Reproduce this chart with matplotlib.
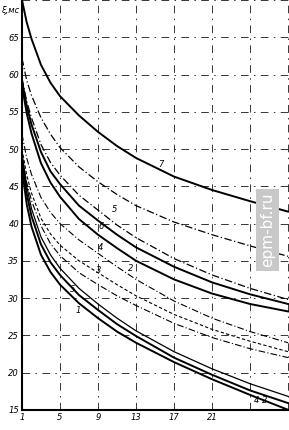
import matplotlib
matplotlib.use('Agg')
import matplotlib.pyplot as plt

# abscissa points where the curves were read
x = [1, 1.5, 2, 3, 4, 5, 7, 9, 11, 13, 17, 21, 25, 29]

# curve 7 (top, thick)
c7 = [70.0, 67.0, 64.8, 61.3, 58.9, 57.1, 54.5, 52.3, 50.4, 48.8, 46.3, 44.5, 43.0, 41.6]
# thin dash-dot from ~62
c6 = [62.2, 59.2, 57.2, 54.2, 52.0, 50.2, 47.6, 45.6, 43.9, 42.4, 40.2, 38.5, 37.0, 35.6]
# upper bunch, starting near 59
t1 = [59.5, 56.4, 54.2, 50.6, 48.2, 46.5, 43.8, 41.8, 39.8, 38.1, 35.3, 33.1, 31.3, 29.8]
t2 = [59.2, 55.8, 53.3, 49.6, 47.0, 45.3, 42.4, 40.4, 38.5, 36.8, 34.2, 32.1, 30.5, 29.2]
t3 = [58.5, 54.8, 52.1, 48.1, 45.5, 43.6, 40.6, 38.5, 36.7, 35.0, 32.5, 30.6, 29.2, 28.2]
# middle bunch (thin, dash-dot)
m1 = [52.0, 48.8, 46.6, 43.5, 41.5, 40.0, 37.8, 36.0, 34.2, 32.5, 29.6, 27.3, 25.5, 24.0]
m2 = [50.0, 46.5, 44.1, 40.7, 38.6, 37.1, 35.0, 33.4, 31.8, 30.3, 27.8, 25.8, 24.2, 22.8]
m3 = [49.0, 45.5, 43.1, 39.7, 37.3, 35.7, 33.4, 31.8, 30.3, 29.0, 26.6, 24.7, 23.2, 22.0]
# lower bunch (thick)
l1 = [49.5, 45.0, 42.0, 38.2, 35.8, 34.0, 31.3, 29.2, 27.3, 25.6, 22.8, 20.5, 18.5, 16.8]
l2 = [48.7, 44.0, 41.0, 37.2, 34.8, 33.1, 30.4, 28.4, 26.5, 24.9, 22.0, 19.7, 17.6, 15.9]
l3 = [47.3, 42.6, 39.6, 35.8, 33.5, 31.8, 29.3, 27.3, 25.5, 24.0, 21.4, 19.1, 17.0, 15.0]

xticks = [1, 5, 9, 13, 17, 21]
yticks = [15, 20, 25, 30, 35, 40, 45, 50, 55, 60, 65]

fig = plt.figure(figsize=(2.89, 4.30), dpi=100)
ax = fig.add_axes([0.076, 0.047, 0.924, 0.953])

# sparse dash-dot grid like the scan
grid_style = dict(color='k', lw=0.55, ls=(0, (10, 7, 2, 7)))
for gx in [5, 9, 13, 17, 21, 25, 29]:
    ax.axvline(gx, **grid_style)
for gy in [20, 25, 30, 35, 40, 45, 50, 55, 60, 65, 70]:
    ax.axhline(gy, **grid_style)

dashdot = (0, (6, 2, 1, 2))
ax.plot(x, c7, color='k', lw=1.4)
ax.plot(x, c6, color='k', lw=0.9, ls=dashdot)
ax.plot(x, t1, color='k', lw=0.9, ls=dashdot)
ax.plot(x, t2, color='k', lw=1.4)
ax.plot(x, t3, color='k', lw=1.4)
ax.plot(x, m1, color='k', lw=0.8, ls=dashdot)
ax.plot(x, m2, color='k', lw=0.8, ls=(0, (3, 2)))
ax.plot(x, m3, color='k', lw=0.8, ls=dashdot)
ax.plot(x, l1, color='k', lw=0.9)
ax.plot(x, l2, color='k', lw=1.4)
ax.plot(x, l3, color='k', lw=1.4)

# curve numbers
lab = dict(fontsize=6, style='italic', color='k')
ax.text(15.3, 47.6, '7', **lab)
ax.text(10.5, 41.6, '5', **lab)
ax.text(9.0, 39.3, '6', **lab)
ax.text(9.0, 36.5, '4', **lab)
ax.text(8.8, 33.3, '3', **lab)
ax.text(12.2, 33.6, '2', **lab)
ax.text(6.0, 30.8, '5', **lab)
ax.text(6.6, 28.0, '1', **lab)
ax.text(25.4, 15.9, '4 2', **lab)

ax.set_xlim(1, 29.1)
ax.set_ylim(15, 70)
ax.set_xticks(xticks)
ax.set_yticks(yticks)
ax.set_xticklabels([str(v) for v in xticks], fontsize=6, style='italic')
ax.set_yticklabels([str(v) for v in yticks], fontsize=6, style='italic')
ax.tick_params(length=0, pad=2)
ax.spines['top'].set_visible(False)
ax.spines['right'].set_visible(False)
ax.spines['left'].set_linewidth(1.5)
ax.spines['bottom'].set_linewidth(1.5)

fig.text(0.005, 0.985, 'ξ,мс', fontsize=6, style='italic', va='top')

# watermark
fig.text(0.925, 0.465, 'epm-bf.ru', rotation=90, fontsize=11, color='white',
         ha='center', va='center',
         bbox=dict(facecolor='#c8c8c8', edgecolor='none', pad=3))

fig.savefig('out.png', dpi=100)
